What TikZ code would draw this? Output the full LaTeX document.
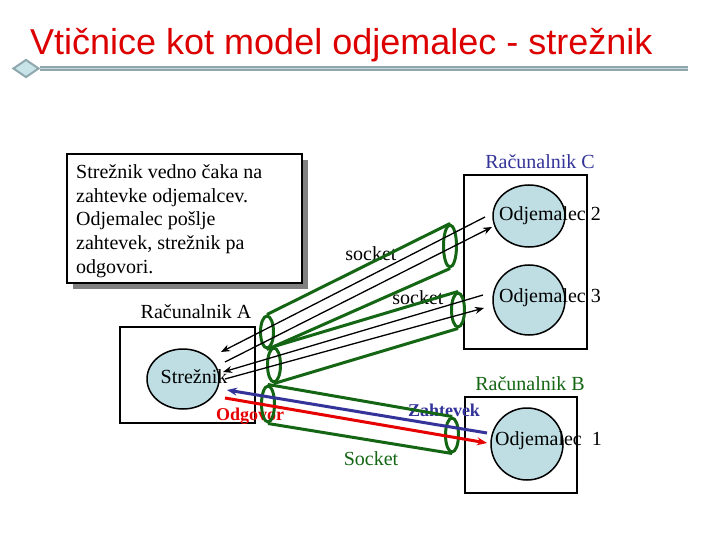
\documentclass[tikz,border=0pt]{standalone}
\usepackage{fontspec}
\setmainfont{Liberation Serif}
\newfontfamily\titlefont{Liberation Sans}
\usetikzlibrary{shapes.geometric,arrows.meta}
\definecolor{titlered}{RGB}{220,0,0}
\definecolor{linegray}{RGB}{143,168,174}
\definecolor{linelight}{RGB}{196,214,218}
\definecolor{diafill}{RGB}{200,228,232}
\definecolor{circfill}{RGB}{190,222,228}
\definecolor{tubegreen}{RGB}{20,102,20}
\definecolor{darkblue}{RGB}{51,51,153}
\definecolor{msgred}{RGB}{230,0,0}
\definecolor{shadowgray}{RGB}{128,128,128}
\begin{document}
\begin{tikzpicture}[x=1bp,y=-1bp,
  lbl/.style={font=\fontsize{20bp}{24bp}\selectfont, inner sep=0pt},
  boldlbl/.style={font=\fontsize{18bp}{22bp}\selectfont\bfseries, inner sep=0pt},
  pcbox/.style={draw=black, line width=2bp, inner sep=0pt},
  host/.style={ellipse, draw=black, line width=1.5bp, fill=circfill, inner sep=0pt, minimum width=72bp},
  tubeend/.style={ellipse, draw=tubegreen, line width=3bp, minimum width=13bp, inner sep=0pt},
  tube/.style={draw=tubegreen, line width=3bp},
  msg/.style={draw=black, line width=1.3bp},
  msgtip/.style={msg, -{Stealth[length=9bp,width=7bp]}},
  colmsg/.style={line width=3bp, -{Stealth[length=10bp,width=8bp]}}]
\useasboundingbox (0,0) rectangle (720,540);
\fill[white] (0,0) rectangle (720,540);

% title
\node[anchor=base west, inner sep=0pt, text=titlered, font=\titlefont\fontsize{36bp}{40bp}\selectfont] (title) at (30,55) {Vtičnice kot model odjemalec - strežnik};
\node[diamond, draw=linegray, fill=diafill, line width=2bp, minimum width=26bp, minimum height=18bp, inner sep=0pt] (dia) at (26,68.5) {};
\coordinate (lineend) at (688,68.5);
\draw[line width=5bp, linegray] (dia.east) -- (lineend);
\draw[line width=1.4bp, linelight] (dia.east) -- (lineend);

% explanation box
\fill[shadowgray] (73,160) rectangle (307.5,289);
\node[draw=black, line width=1.5bp, fill=white, minimum width=235bp, minimum height=129bp, inner sep=0pt] (note) at (184.5,218.5) {};
\node[lbl, anchor=base west] (n1) at (76,178.5) {Strežnik vedno čaka na};
\node[lbl, anchor=base west] (n2) at (76,202.2) {zahtevke odjemalcev.};
\node[lbl, anchor=base west] (n3) at (76,225.9) {Odjemalec pošlje};
\node[lbl, anchor=base west] (n4) at (76,249.6) {zahtevek, strežnik pa};
\node[lbl, anchor=base west] (n5) at (76,273.3) {odgovori.};

% computers
\node[lbl] (labA) at (196,312) {Računalnik A};
\node[pcbox, minimum width=135bp, minimum height=96bp] (boxA) at (187.5,375) {};
\node[host, minimum height=60bp] (srv) at (183,379) {};
\node[lbl] (srvt) at (194,377) {Strežnik};

\node[lbl, text=darkblue] (labC) at (540,162) {Računalnik C};
\node[pcbox, minimum width=123bp, minimum height=174bp] (boxC) at (525.5,262) {};
\node[host, minimum height=62bp] (c2) at (529,216) {};
\node[lbl, anchor=west] (c2t) at (499,216) {Odjemalec 2};
\node[host, minimum height=70bp] (c3) at (529,300) {};
\node[lbl, anchor=west] (c3t) at (499,298) {Odjemalec 3};

\node[lbl, text=tubegreen] (labB) at (530,384) {Računalnik B};
\node[pcbox, minimum width=112bp, minimum height=96bp] (boxB) at (521,445) {};
\node[host, minimum height=72bp] (c1) at (527,444) {};
\node[lbl, anchor=west] (c1t) at (495,441) {Odjemalec\ \ 1};

% labels
\node[lbl] (s1) at (371,254) {socket};
\node[lbl] (s2) at (418,298) {socket};
\node[lbl, text=tubegreen] (s3) at (371,459) {Socket};
\node[boldlbl, text=darkblue] (zah) at (444,410) {Zahtevek};
\node[boldlbl, text=msgred] (odg) at (250,416) {Odgovor};

% tubes
\node[tubeend, minimum height=32bp] (t1l) at (267,332) {};
\node[tubeend, minimum height=42bp] (t1r) at (450,246) {};
\draw[tube] (t1l.north) -- (t1r.north);
\draw[tube] (t1l.south) -- (t1r.south);
\node[tubeend, minimum height=34bp] (t2l) at (274,365) {};
\node[tubeend, minimum height=34bp] (t2r) at (458,310) {};
\draw[tube] (t2l.north) -- (t2r.north);
\draw[tube] (t2l.south) -- (t2r.south);
\node[tubeend, minimum height=36bp] (t3l) at (268,404) {};
\node[tubeend, minimum height=34bp] (t3r) at (452,435) {};
\draw[tube] (t3l.north) -- (t3r.north);
\draw[tube] (t3l.south) -- (t3r.south);

% message arrows
\coordinate (a1s) at (485,217);
\coordinate (a1e) at (221,352);
\coordinate (a2s) at (225,362);
\coordinate (a2e) at (492,227);
\coordinate (a3s) at (483,295);
\coordinate (a3e) at (223,372);
\coordinate (a4s) at (225,379);
\coordinate (a4e) at (484,308);
\coordinate (zs) at (487,433);
\coordinate (ze) at (227,390);
\coordinate (os) at (225,398);
\coordinate (oe) at (487,443);
\draw[msgtip] (a1s) -- (a1e);
\draw[msgtip] (a2s) -- (a2e);
\draw[msgtip] (a3s) -- (a3e);
\draw[msgtip] (a4s) -- (a4e);
\draw[colmsg, darkblue] (zs) -- (ze);
\draw[colmsg, msgred] (os) -- (oe);
\end{tikzpicture}
\end{document}
